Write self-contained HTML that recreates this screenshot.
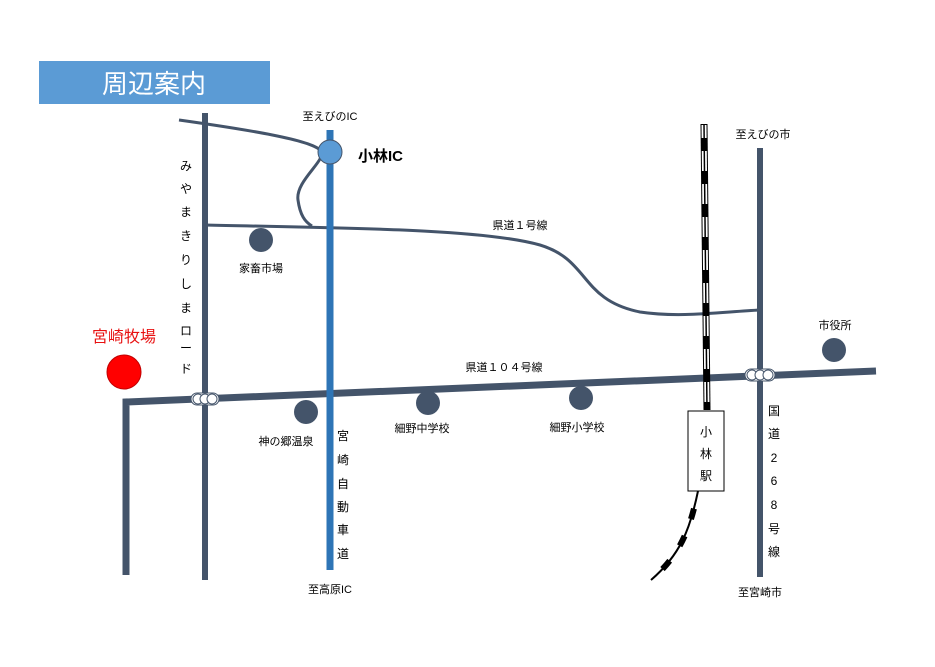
<!DOCTYPE html>
<html><head><meta charset="utf-8"><style>
body{margin:0;background:#fff;}
svg text{font-family:"Liberation Sans","Noto Sans CJK JP",sans-serif;fill:#000;}
</style></head><body>
<svg width="935" height="662" viewBox="0 0 935 662" xmlns="http://www.w3.org/2000/svg">
<rect x="39" y="61" width="231" height="43" fill="#5b9bd5"/>
<text x="154" y="93" font-size="26" fill="#fff" style="fill:#fff" text-anchor="middle">周辺案内</text>

<!-- roads -->
<g stroke="#44546a" fill="none">
<path d="M126 575 L126 402 L876 371" stroke-width="7"/>
<line x1="205" y1="113" x2="205" y2="580" stroke-width="6"/>
<line x1="760" y1="148" x2="760" y2="577" stroke-width="6"/>
<path d="M179 120 C250 130 310 140 320 150 C330 158 295 180 298 200 C300 215 305 222 312 226" stroke-width="3"/>
<path d="M205 225 C330 228 480 228 540 245 C590 260 580 300 640 312 C680 318 720 312 760 310" stroke-width="3"/>
</g>
<line x1="330" y1="130" x2="330" y2="570" stroke="#2e75b6" stroke-width="7"/>
<circle cx="330" cy="152" r="12" fill="#5b9bd5" stroke="#44546a" stroke-width="1"/>

<!-- rail -->
<line x1="704" y1="124" x2="707" y2="410" stroke="#000" stroke-width="7"/>
<line x1="704" y1="125" x2="707" y2="409" stroke="#fff" stroke-width="5"/>
<line x1="704" y1="124" x2="707" y2="410" stroke="#000" stroke-width="1.5"/>
<line x1="704" y1="124" x2="707" y2="410" stroke="#000" stroke-width="6" stroke-dasharray="13 20" stroke-dashoffset="-14"/>
<path d="M698 491 C690 530 680 555 651 580" stroke="#000" stroke-width="2" fill="none"/>
<path d="M698 491 C690 530 680 555 651 580" stroke="#000" stroke-width="6" fill="none" stroke-dasharray="11 18" stroke-dashoffset="-18"/>
<rect x="688" y="411" width="36" height="80" fill="#fff" stroke="#000" stroke-width="1"/>
<text x="706" y="436" font-size="12" text-anchor="middle">小</text>
<text x="706" y="458" font-size="12" text-anchor="middle">林</text>
<text x="706" y="480" font-size="12" text-anchor="middle">駅</text>

<!-- signals -->
<g fill="#fff" stroke="#44546a" stroke-width="1">
<rect x="191" y="393" width="28" height="12" rx="6"/>
<circle cx="198" cy="399" r="5"/><circle cx="205" cy="399" r="5"/><circle cx="212" cy="399" r="5"/>
<rect x="745" y="369" width="30" height="12" rx="6"/>
<circle cx="752" cy="375" r="5"/><circle cx="760" cy="375" r="5"/><circle cx="768" cy="375" r="5"/>
</g>

<!-- POIs -->
<g fill="#44546a">
<circle cx="261" cy="240" r="12"/>
<circle cx="306" cy="412" r="12"/>
<circle cx="428" cy="403" r="12"/>
<circle cx="581" cy="398" r="12"/>
<circle cx="834" cy="350" r="12"/>
</g>
<circle cx="124" cy="372" r="17" fill="#ff0000" stroke="#c00000" stroke-width="1"/>
<text x="124" y="342" font-size="16" text-anchor="middle" style="fill:#e81010">宮崎牧場</text>

<g font-size="11">
<text x="330" y="120" text-anchor="middle">至えびのIC</text>
<text x="358" y="161" font-size="15" font-weight="bold">小林IC</text>
<text x="261" y="272" text-anchor="middle">家畜市場</text>
<text x="520" y="229" text-anchor="middle">県道１号線</text>
<text x="504" y="371" text-anchor="middle">県道１０４号線</text>
<text x="286" y="445" text-anchor="middle">神の郷温泉</text>
<text x="422" y="432" text-anchor="middle">細野中学校</text>
<text x="577" y="431" text-anchor="middle">細野小学校</text>
<text x="835" y="329" text-anchor="middle">市役所</text>
<text x="763" y="138" text-anchor="middle">至えびの市</text>
<text x="330" y="593" text-anchor="middle">至高原IC</text>
<text x="760" y="596" text-anchor="middle">至宮崎市</text>
</g>
<g font-size="12" text-anchor="middle">
<text x="186" y="170">み</text><text x="186" y="193">や</text><text x="186" y="216">ま</text><text x="186" y="240">き</text><text x="186" y="264">り</text><text x="186" y="288">し</text><text x="186" y="312">ま</text><text x="186" y="335">ロ</text><text x="186" y="352">ー</text><text x="186" y="373">ド</text>
<text x="343" y="440">宮</text><text x="343" y="464">崎</text><text x="343" y="488">自</text><text x="343" y="511">動</text><text x="343" y="534">車</text><text x="343" y="558">道</text>
<text x="774" y="415">国</text><text x="774" y="438">道</text><text x="774" y="462">2</text><text x="774" y="485">6</text><text x="774" y="509">8</text><text x="774" y="533">号</text><text x="774" y="556">線</text>
</g>
</svg>
</body></html>
